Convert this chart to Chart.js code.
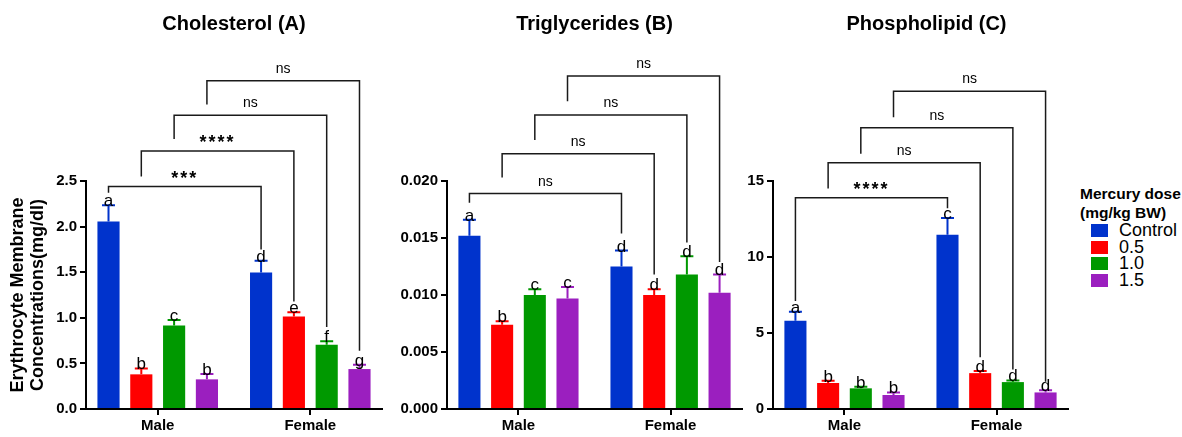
<!DOCTYPE html>
<html>
<head>
<meta charset="utf-8">
<script src="https://cdn.jsdelivr.net/npm/chart.js@4.4.1/dist/chart.umd.min.js"></script>
<style>
  body { margin: 0; background: #fff; font-family: 'Liberation Sans', Arial, sans-serif; }
  .panel { position: absolute; top: 0; height: 437px; }
  #legend { position: absolute; left: 1080px; top: 184px; color: #000; white-space: nowrap; }
  #legend .head { font-weight: bold; font-size: 15.5px; line-height: 19px; }
  #legend .row { position: relative; height: 16.5px; font-size: 18px; line-height: 16.5px; padding-left: 39px; }
  #legend .sw { position: absolute; left: 11px; top: 2px; width: 17px; height: 13px; }
</style>
</head>
<body>
<div class="panel" style="left:0;width:386px"><canvas id="chartA"></canvas></div>
<div class="panel" style="left:387px;width:359px"><canvas id="chartB"></canvas></div>
<div class="panel" style="left:746px;width:326px"><canvas id="chartC"></canvas></div>
<div id="legend"></div>
<script>
const FONT = "'Liberation Sans', Arial, sans-serif";

const groups = ['Male', 'Female'];
const doses = ['Control', '0.5', '1.0', '1.5'];
const doseColors = ['#0033cc', '#ff0000', '#009900', '#9b1fbf'];
const legendTitle = ['Mercury dose', '(mg/kg BW)'];
const yTitle = ['Erythrocyte Membrane', 'Concentrations(mg/dl)'];

// rows = doses, columns = [Male, Female]
const cholMean = [[2.055, 1.496], [0.380, 1.015], [0.916, 0.704], [0.325, 0.438]];
const cholSem = [[0.18, 0.13], [0.065, 0.045], [0.06, 0.04], [0.06, 0.047]];
const cholLetters = [['a', 'd'], ['b', 'e'], ['c', 'f'], ['b', 'g']];
const cholTicks = ['0.0', '0.5', '1.0', '1.5', '2.0', '2.5'];
// [dose, bracket level, left leg end, right leg end, label]
const cholBrackets = [
  [0, 2.44, 2.37, 1.75, '***'],
  [1, 2.83, 2.55, 1.18, '****'],
  [2, 3.22, 2.96, 0.90, 'ns'],
  [3, 3.60, 3.34, 0.64, 'ns']
];

const trigMean = [[0.0152, 0.0125], [0.0074, 0.0100], [0.0100, 0.0118], [0.0097, 0.0102]];
const trigSem = [[0.0014, 0.0014], [0.0003, 0.0005], [0.0005, 0.0016], [0.0010, 0.0016]];
const trigLetters = [['a', 'd'], ['b', 'd'], ['c', 'd'], ['c', 'd']];
const trigTicks = ['0.000', '0.005', '0.010', '0.015', '0.020'];
const trigBrackets = [
  [0, 0.0189, 0.0181, 0.0154, 'ns'],
  [1, 0.0224, 0.0203, 0.0118, 'ns'],
  [2, 0.0258, 0.0236, 0.0146, 'ns'],
  [3, 0.0292, 0.0270, 0.0129, 'ns']
];

const phosMean = [[5.80, 11.47], [1.71, 2.36], [1.36, 1.77], [0.92, 1.09]];
const phosSem = [[0.59, 1.10], [0.15, 0.14], [0.11, 0.11], [0.17, 0.14]];
const phosLetters = [['a', 'c'], ['b', 'd'], ['b', 'd'], ['b', 'd']];
const phosTicks = ['0', '5', '10', '15'];
const phosBrackets = [
  [0, 13.9, 7.1, 13.2, '****'],
  [1, 16.2, 14.5, 3.4, 'ns'],
  [2, 18.5, 16.8, 2.6, 'ns'],
  [3, 20.9, 19.2, 1.8, 'ns']
];

// panel title, error bars, letters and comparison brackets
function annotate(p) {
  return {
    id: 'annotate',
    afterDatasetsDraw(chart) {
      const ctx = chart.ctx;
      const y = chart.scales.y;
      const area = chart.chartArea;
      ctx.save();
      ctx.fillStyle = '#000';
      ctx.font = 'bold 20px ' + FONT;
      ctx.textAlign = 'center';
      ctx.textBaseline = 'middle';
      ctx.fillText(p.title, (area.left + area.right) / 2 + (p.titleShift || 0), 24);

      p.mean.forEach((row, d) => {
        const meta = chart.getDatasetMeta(d);
        row.forEach((v, g) => {
          const bar = meta.data[g];
          const top = y.getPixelForValue(v + p.sem[d][g]);
          ctx.strokeStyle = doseColors[d];
          ctx.lineWidth = 2;
          ctx.beginPath();
          ctx.moveTo(bar.x, bar.y);
          ctx.lineTo(bar.x, top);
          ctx.moveTo(bar.x - 6.5, top);
          ctx.lineTo(bar.x + 6.5, top);
          ctx.stroke();
          ctx.fillStyle = '#000';
          ctx.font = '17px ' + FONT;
          ctx.textAlign = 'center';
          ctx.textBaseline = 'alphabetic';
          ctx.fillText(p.letters[d][g], bar.x, top + 1);
        });
      });
      p.brackets.forEach(([d, level, leftEnd, rightEnd, label]) => {
        const meta = chart.getDatasetMeta(d);
        const xl = meta.data[0].x, xr = meta.data[1].x;
        const yl = y.getPixelForValue(level);
        ctx.strokeStyle = '#1a1a1a';
        ctx.lineWidth = 1.5;
        ctx.beginPath();
        ctx.moveTo(xl, y.getPixelForValue(leftEnd));
        ctx.lineTo(xl, yl);
        ctx.lineTo(xr, yl);
        ctx.lineTo(xr, y.getPixelForValue(rightEnd));
        ctx.stroke();
        const star = label !== 'ns';
        ctx.font = star ? 'bold 18px ' + FONT : '14px ' + FONT;
        ctx.letterSpacing = star ? '2px' : '0px';
        const m = ctx.measureText(label);
        ctx.fillStyle = '#000';
        ctx.textAlign = 'center';
        ctx.fillText(label, (xl + xr) / 2, yl - 12 + (m.actualBoundingBoxAscent - m.actualBoundingBoxDescent) / 2);
        ctx.letterSpacing = '0px';
      });
      ctx.restore();
    }
  };
}

function makePanel(id, p) {
  const tickFont = { family: FONT, size: 15, weight: 'bold' };
  new Chart(document.getElementById(id), {
    type: 'bar',
    data: {
      datasets: doses.map((dose, d) => ({
        label: dose,
        data: groups.map((g, i) => ({ x: i + 1, y: p.mean[d][i] })),
        backgroundColor: doseColors[d],
        barPercentage: 0.675,
        categoryPercentage: 0.86
      }))
    },
    options: {
      responsive: true,
      maintainAspectRatio: false,
      animation: false,
      layout: { padding: { left: 0, right: 4, top: 181, bottom: 0 } },
      plugins: {
        legend: { display: false },
        tooltip: { enabled: false }
      },
      scales: {
        x: {
          type: 'linear',
          min: 0.53,
          max: 2.47,
          offset: false,
          afterBuildTicks: s => { s.ticks = groups.map((g, i) => ({ value: i + 1 })); },
          afterFit: s => { s.height = 28; },
          ticks: { callback: v => groups[v - 1], color: '#000', font: tickFont, padding: 2, autoSkip: false, maxRotation: 0 },
          grid: { drawOnChartArea: false, offset: false, color: '#000', lineWidth: 2, tickLength: 6 },
          border: { color: '#000', width: 2 }
        },
        y: {
          min: 0,
          max: +p.ticks[p.ticks.length - 1],
          afterBuildTicks: s => { s.ticks = p.ticks.map(t => ({ value: +t })); },
          afterFit: s => { s.width = p.axisW; },
          ticks: { callback: (v, i) => p.ticks[i], color: '#000', font: tickFont, padding: 3 },
          grid: { drawOnChartArea: false, color: '#000', lineWidth: 2, tickLength: 6 },
          border: { color: '#000', width: 2 },
          title: p.yTitle ? {
            display: true,
            text: p.yTitle,
            color: '#000',
            font: { family: FONT, size: 18, weight: 'bold', lineHeight: 1.1 },
            padding: { top: 8, bottom: 0 }
          } : { display: false }
        }
      }
    },
    plugins: [annotate(p)]
  });
}

makePanel('chartA', { title: 'Cholesterol (A)', mean: cholMean, sem: cholSem, letters: cholLetters, ticks: cholTicks, brackets: cholBrackets, yTitle: yTitle, axisW: 86 });
makePanel('chartB', { title: 'Triglycerides (B)', mean: trigMean, sem: trigSem, letters: trigLetters, ticks: trigTicks, brackets: trigBrackets, axisW: 60 });
makePanel('chartC', { title: 'Phospholipid (C)', mean: phosMean, sem: phosSem, letters: phosLetters, ticks: phosTicks, brackets: phosBrackets, axisW: 27, titleShift: 6 });

// legend
const legend = document.getElementById('legend');
legend.innerHTML = '<div class="head">' + legendTitle.join('<br>') + '</div>' +
  doses.map((d, i) => '<div class="row"><span class="sw" style="background:' + doseColors[i] + '"></span>' + d + '</div>').join('');
</script>
</body>
</html>
